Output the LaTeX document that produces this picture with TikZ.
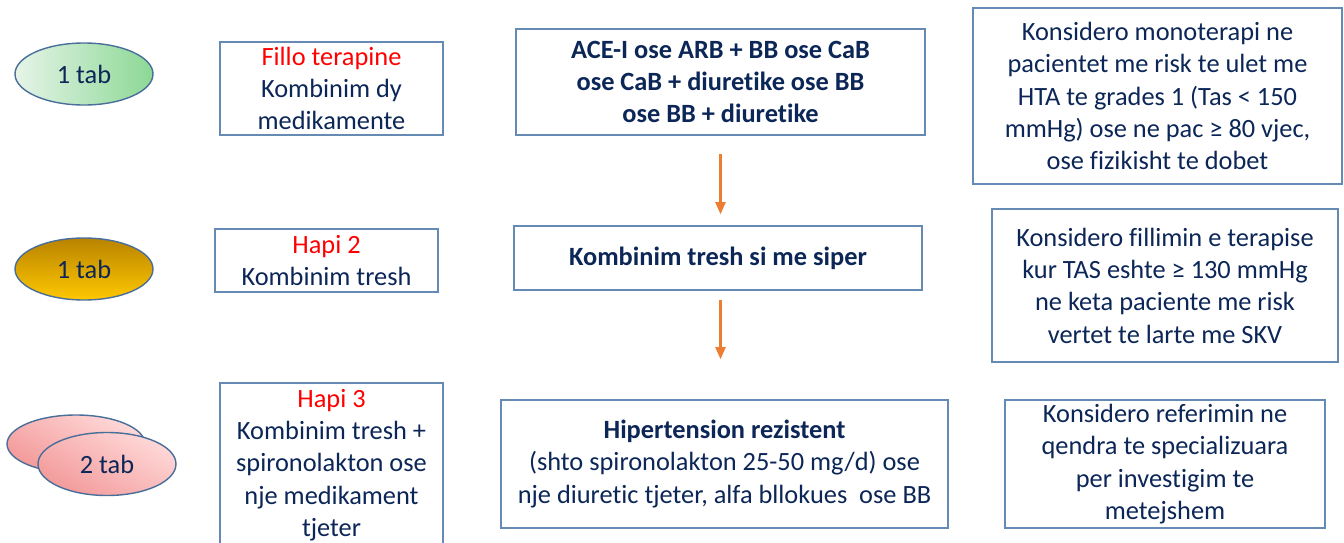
\documentclass[tikz,border=0pt]{standalone}
\usepackage{fontspec}
\setmainfont{Carlito}[Ligatures=NoCommon]
\usepackage{tikz}
\usepackage{xcolor}
\usetikzlibrary{arrows.meta,positioning,shapes.geometric}
\definecolor{ink}     {HTML}{0B2657}
\definecolor{stepred} {HTML}{FF0000}
\definecolor{frame}   {HTML}{658AB4}
\definecolor{rim}     {HTML}{4A6E9A}
\definecolor{flow}    {HTML}{ED7D31}
\definecolor{greenL}  {HTML}{E6F4E8}
\definecolor{greenR}  {HTML}{8CD895}
\definecolor{goldT}   {HTML}{B98300}
\definecolor{goldB}   {HTML}{FFC800}
\definecolor{pinkL}   {HTML}{FFD8D8}
\definecolor{pinkD}   {HTML}{F39A9A}
\tikzset{
  box/.style      ={draw=frame, fill=white, line width=0.9pt,
                    align=center, text=ink, inner sep=2pt,
                    font=\fontsize{15}{18.4}\selectfont},
  bbox/.style     ={box, font=\fontsize{15}{18.4}\selectfont\bfseries},
  pill/.style     ={ellipse, draw=rim, line width=0.8pt, text=ink,
                    minimum width=2.76cm, minimum height=1.24cm,
                    inner sep=0pt, font=\fontsize{15}{18.4}\selectfont},
  arr/.style      ={-{Triangle[length=2.4mm,width=2mm]}, line width=1.2pt,
                    color=flow},
}

\begin{document}
\begin{tikzpicture}[x=1cm,y=1cm]
  \useasboundingbox (0,0) rectangle (26.88,10.84);

  % tablets
  \node[pill, left color=greenL, right color=greenR] (t1) at (1.68,9.36) {1 tab};
  \node[pill, top color=goldT, bottom color=goldB] (t2) at (1.68,5.46) {1 tab};
  \node[pill, minimum height=1.16cm, top color=pinkL, bottom color=pinkD,
        shading angle=-30] (t3b) at (1.52,1.96) {};
  \node[pill, minimum height=1.26cm, top color=pinkL, bottom color=pinkD,
        shading angle=-30] (t3) at (2.14,1.56) {2 tab};

  % steps
  \node[box,minimum width=4.46cm,minimum height=1.86cm] (s1) at (6.63,9.07)
    {\textcolor{stepred}{Fillo terapine}\\Kombinim dy\\medikamente};
  \node[box,minimum width=4.46cm,minimum height=1.26cm] (s2) at (6.53,5.63)
    {\textcolor{stepred}{Hapi 2}\\Kombinim tresh};
  \node[box,minimum width=4.46cm,minimum height=3.28cm] (s3) at (6.63,1.54)
    {\textcolor{stepred}{Hapi 3}\\Kombinim tresh +\\spironolakton ose\\nje medikament\\tjeter};

  % therapy
  \node[bbox,minimum width=8.18cm,minimum height=2.12cm] (m1) at (14.41,9.20)
    {ACE-I ose ARB + BB ose CaB\\ose CaB + diuretike ose BB\\ose BB + diuretike};
  \node[bbox,minimum width=8.16cm,minimum height=1.28cm] (m2) at (14.36,5.68)
    {Kombinim tresh si me siper};
  \node[box,minimum width=8.94cm,minimum height=2.56cm] (m3) at (14.49,1.56)
    {\textbf{Hipertension rezistent}\\(shto spironolakton 25-50 mg/d) ose\\nje diuretic tjeter, alfa bllokues\ \ ose BB};

  % notes
  \node[box,minimum width=7.38cm,minimum height=3.52cm] (r1) at (23.15,8.92)
    {Konsidero monoterapi ne\\pacientet me risk te ulet me\\HTA te grades 1 (Tas < 150\\mmHg) ose ne pac ≥ 80 vjec,\\ose fizikisht te dobet};
  \node[box,minimum width=6.92cm,minimum height=3.06cm] (r2) at (23.30,5.13)
    {Konsidero fillimin e terapise\\kur TAS eshte ≥ 130 mmHg\\ne keta paciente me risk\\vertet te larte me SKV};
  \node[box,minimum width=6.40cm,minimum height=2.56cm] (r3) at (23.30,1.56)
    {Konsidero referimin ne\\qendra te specializuara\\per investigim te\\metejshem};

  \draw[arr, shorten <=0.36cm, shorten >=0.22cm] (m1.south) -- (m1.south |- m2.north);
  \draw[arr, shorten <=0.18cm, shorten >=0.80cm] (m1.south |- m2.south) -- (m1.south |- m3.north);
\end{tikzpicture}
\end{document}
